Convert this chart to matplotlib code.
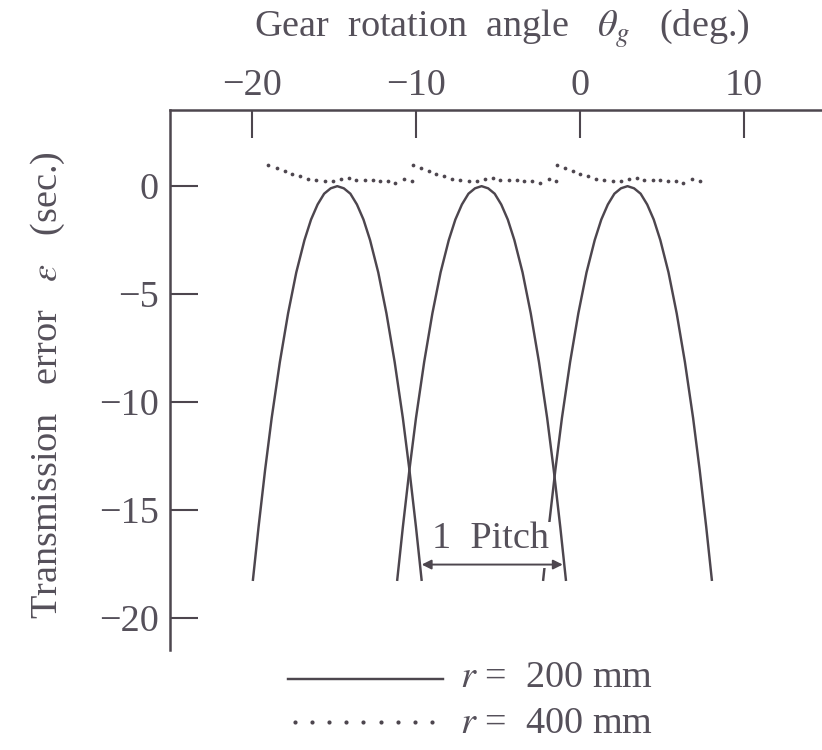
import matplotlib
matplotlib.use("Agg")
import matplotlib.pyplot as plt
from matplotlib.lines import Line2D
from matplotlib.patches import Rectangle

plt.rcParams["font.family"] = ["Liberation Serif", "DejaVu Serif"]
plt.rcParams["mathtext.fontset"] = "stix"

INK = "#4d464e"
TXT = "#55505a"
FS = 27.5

# ---- r = 200 mm : transmission error of three successive tooth pairs ----
theta_200_a = [-19.95, -19.6, -19.2, -18.8, -18.3, -17.8, -17.3, -16.8, -16.4, -16.0, -15.6, -15.2,
               -14.8, -14.4, -14.0, -13.6, -13.2, -12.8, -12.3, -11.8, -11.3, -10.8, -10.4, -10.0, -9.65]
theta_200_b = [-11.15, -10.8, -10.4, -10.0, -9.5, -9.0, -8.5, -8.0, -7.6, -7.2, -6.8, -6.4,
               -6.0, -5.6, -5.2, -4.8, -4.4, -4.0, -3.5, -3.0, -2.5, -2.0, -1.6, -1.2, -0.85]
theta_200_c = [-2.25, -1.9, -1.5, -1.1, -0.6, -0.1, 0.4, 0.9, 1.3, 1.7, 2.1, 2.5,
               2.9, 3.3, 3.7, 4.1, 4.5, 4.9, 5.4, 5.9, 6.4, 6.9, 7.3, 7.7, 8.05]
err_200 = [-18.3, -15.8, -13.15, -10.75, -8.15, -5.9, -4.0, -2.5, -1.55, -0.85, -0.35, -0.1,
           0.0, -0.1, -0.35, -0.85, -1.55, -2.5, -4.0, -5.9, -8.15, -10.75, -13.15, -15.8, -18.3]

# ---- r = 400 mm ----
theta_400_a = [-19.0, -18.5, -18.0, -17.55, -17.1, -16.6, -16.1, -15.55, -15.05, -14.6, -14.1,
               -13.65, -13.1, -12.65, -12.2, -11.7, -11.25, -10.7, -10.25]
theta_400_b = [-10.2, -9.7, -9.2, -8.75, -8.3, -7.8, -7.3, -6.75, -6.25, -5.8, -5.3,
               -4.85, -4.3, -3.85, -3.4, -2.9, -2.45, -1.9, -1.45]
theta_400_c = [-1.4, -0.9, -0.45, 0.0, 0.5, 1.0, 1.45, 2.0, 2.5, 3.0, 3.5,
               3.9, 4.45, 4.9, 5.35, 5.85, 6.3, 6.85, 7.3]
err_400 = [0.97, 0.84, 0.70, 0.56, 0.46, 0.33, 0.28, 0.23, 0.23, 0.32, 0.37,
           0.28, 0.28, 0.28, 0.25, 0.22, 0.15, 0.32, 0.23]

x_ticks = [-20, -10, 0, 10]
y_ticks = [0, -5, -10, -15, -20]

# one-pitch dimension line
pitch_start, pitch_end, pitch_level = -9.65, -1.05, -17.54

fig = plt.figure(figsize=(8.22, 7.5), dpi=100)
ax = fig.add_axes([170 / 822, 100 / 750, 652 / 822, 540 / 750])
ax.set_xlim(-25, 14.76)
ax.set_ylim(-21.5, 3.53)

for th in (theta_200_a, theta_200_b, theta_200_c):
    ax.plot(th, err_200, color=INK, lw=1.75, solid_capstyle="butt", zorder=2)
for th in (theta_400_a, theta_400_b, theta_400_c):
    ax.plot(th, err_400, ls="none", marker="o", ms=2.7, mew=0, color=INK, zorder=2)

# white field behind the pitch label
ax.add_patch(Rectangle((-9.33, -17.68), 7.62, 2.1, facecolor="white",
                       edgecolor="none", zorder=3))
ax.text(-5.45, -16.35, "1  Pitch", fontsize=FS, color=TXT, ha="center",
        va="center", zorder=4)
ax.annotate("", xy=(pitch_end, pitch_level), xytext=(pitch_start, pitch_level),
            arrowprops=dict(arrowstyle="<|-|>", color=INK, lw=1.4,
                            mutation_scale=14, shrinkA=0, shrinkB=0),
            zorder=5)

# axes frame: left and top only, ticks pointing inward
for side in ("right", "bottom"):
    ax.spines[side].set_visible(False)
for side in ("left", "top"):
    ax.spines[side].set_color(INK)
    ax.spines[side].set_linewidth(1.8)

ax.xaxis.tick_top()
ax.set_xticks(x_ticks)
ax.set_yticks(y_ticks)
ax.tick_params(axis="x", which="both", direction="in", length=20, width=1.5,
               color=INK, labelsize=FS, labelcolor=TXT, pad=5)
ax.tick_params(axis="y", which="both", direction="in", length=20, width=1.5,
               color=INK, labelsize=FS, labelcolor=TXT, pad=8)

fig.text(502 / 822, 1 - 37 / 750, r"Gear  rotation  angle   $\theta_g$   (deg.)",
         fontsize=FS, color=TXT, ha="center", va="baseline")
fig.text(48 / 822, 1 - 385 / 750, r"Transmission   error   $\varepsilon$   (sec.)",
         fontsize=FS, color=TXT, ha="center", va="center", rotation=90)

# legend
fig.add_artist(Line2D([288 / 822, 443 / 822], [1 - 679 / 750] * 2, color=INK, lw=1.75))
legend_dots_x = [(295 + 17.1 * i) / 822 for i in range(9)]
fig.add_artist(Line2D(legend_dots_x, [1 - 722 / 750] * 9, ls="none", marker="o",
                      ms=3.0, mew=0, color=INK))
fig.text(460 / 822, 1 - 687 / 750, r"$r$ =  200 mm", fontsize=FS, color=TXT,
         ha="left", va="baseline")
fig.text(460 / 822, 1 - 733 / 750, r"$r$ =  400 mm", fontsize=FS, color=TXT,
         ha="left", va="baseline")

fig.savefig("out.png", dpi=100, facecolor="white")
